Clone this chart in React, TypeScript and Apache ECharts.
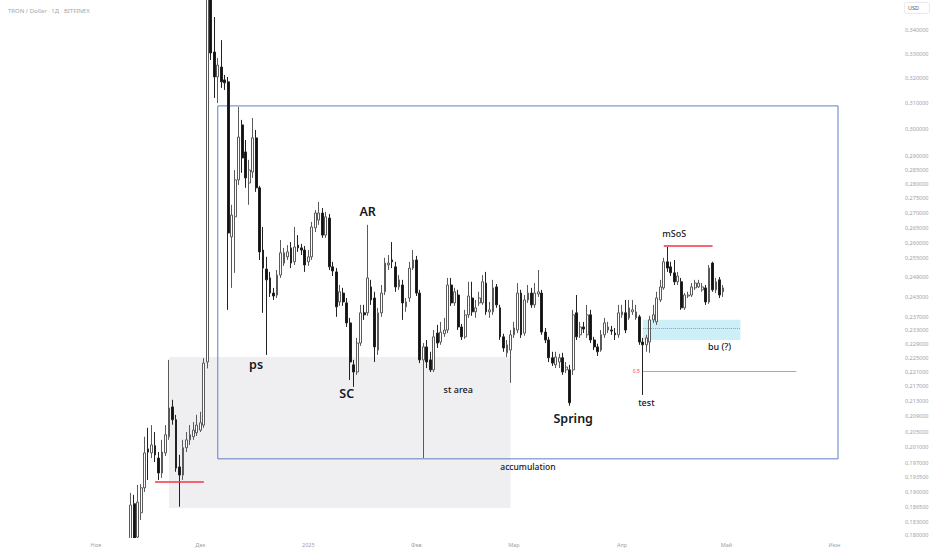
import { useEffect, useRef } from 'react';
import * as echarts from 'echarts';

const AXIS_START = '2024-10-05';
const AXIS_DAYS = 258;
const FIRST_CANDLE = '2024-11-11';

// [open, close, low, high]
const novCandles = [
  [0.1789, 0.1869, 0.1769, 0.1898], [0.1872, 0.1778, 0.1766, 0.1893], [0.1795, 0.1876, 0.1778, 0.1917],
  [0.1851, 0.1910, 0.1834, 0.1919], [0.1910, 0.1996, 0.1900, 0.2037], [0.2006, 0.1998, 0.1929, 0.2060],
  [0.1996, 0.2016, 0.1983, 0.2067], [0.2014, 0.1991, 0.1973, 0.2049], [0.1983, 0.1946, 0.1929, 0.1998],
  [0.1946, 0.1998, 0.1934, 0.2029], [0.1996, 0.2042, 0.1988, 0.2067], [0.2037, 0.2112, 0.2029, 0.2244],
  [0.2115, 0.2081, 0.2068, 0.2134], [0.2081, 0.1958, 0.1949, 0.2094], [0.1961, 0.1941, 0.1865, 0.1991],
  [0.1941, 0.2009, 0.1929, 0.2029], [0.2009, 0.2029, 0.1998, 0.2049], [0.2029, 0.2042, 0.2016, 0.2067],
  [0.2037, 0.2054, 0.2029, 0.2075], [0.2047, 0.2067, 0.2039, 0.2094],
];
const decCandles = [
  [0.2054, 0.2073, 0.2049, 0.2102], [0.2067, 0.2235, 0.2060, 0.2249], [0.2238, 0.3780, 0.2220, 0.4490],
  [0.3780, 0.3303, 0.3274, 0.3950], [0.3307, 0.3205, 0.3121, 0.3456], [0.3205, 0.3253, 0.3101, 0.3282],
  [0.3245, 0.3185, 0.3161, 0.3357], [0.3193, 0.3181, 0.3153, 0.3213], [0.3185, 0.2633, 0.2390, 0.3205],
  [0.2620, 0.2693, 0.2457, 0.2728], [0.2687, 0.2815, 0.2504, 0.2850], [0.2815, 0.2971, 0.2797, 0.3086],
  [0.3017, 0.2894, 0.2840, 0.3036], [0.2916, 0.2822, 0.2787, 0.2960], [0.2804, 0.2850, 0.2728, 0.2887],
  [0.2843, 0.2968, 0.2822, 0.3043], [0.2968, 0.2787, 0.2773, 0.2998], [0.2787, 0.2571, 0.2545, 0.2794],
  [0.2577, 0.2519, 0.2381, 0.2653], [0.2516, 0.2482, 0.2258, 0.2555], [0.2488, 0.2441, 0.2429, 0.2507],
  [0.2441, 0.2432, 0.2420, 0.2457], [0.2435, 0.2497, 0.2426, 0.2513], [0.2497, 0.2568, 0.2488, 0.2610],
  [0.2535, 0.2568, 0.2526, 0.2584], [0.2555, 0.2571, 0.2545, 0.2593], [0.2584, 0.2535, 0.2519, 0.2603],
  [0.2539, 0.2587, 0.2529, 0.2653], [0.2593, 0.2584, 0.2571, 0.2626], [0.2584, 0.2577, 0.2561, 0.2597],
  [0.2577, 0.2529, 0.2507, 0.2590],
];
const janCandles = [
  [0.2539, 0.2555, 0.2526, 0.2577], [0.2555, 0.2653, 0.2545, 0.2670], [0.2650, 0.2700, 0.2636, 0.2710],
  [0.2676, 0.2700, 0.2660, 0.2738], [0.2700, 0.2626, 0.2617, 0.2717], [0.2626, 0.2687, 0.2617, 0.2704],
  [0.2683, 0.2523, 0.2513, 0.2697], [0.2523, 0.2510, 0.2494, 0.2539], [0.2507, 0.2399, 0.2369, 0.2519],
  [0.2414, 0.2445, 0.2402, 0.2466], [0.2441, 0.2414, 0.2402, 0.2457], [0.2411, 0.2351, 0.2339, 0.2426],
  [0.2351, 0.2238, 0.2188, 0.2366], [0.2230, 0.2210, 0.2169, 0.2244], [0.2210, 0.2292, 0.2202, 0.2307],
  [0.2292, 0.2381, 0.2284, 0.2405], [0.2381, 0.2375, 0.2360, 0.2405], [0.2381, 0.2488, 0.2372, 0.2660],
  [0.2460, 0.2420, 0.2405, 0.2482], [0.2426, 0.2281, 0.2238, 0.2445], [0.2272, 0.2381, 0.2258, 0.2396],
  [0.2381, 0.2441, 0.2369, 0.2466], [0.2445, 0.2535, 0.2435, 0.2552], [0.2529, 0.2535, 0.2513, 0.2561],
  [0.2545, 0.2539, 0.2519, 0.2603], [0.2523, 0.2460, 0.2445, 0.2539], [0.2460, 0.2482, 0.2451, 0.2497],
  [0.2466, 0.2411, 0.2360, 0.2482], [0.2399, 0.2414, 0.2384, 0.2426], [0.2426, 0.2519, 0.2414, 0.2539],
  [0.2519, 0.2545, 0.2513, 0.2577],
];
const febCandles = [
  [0.2545, 0.2441, 0.2432, 0.2558], [0.2441, 0.2244, 0.2235, 0.2451], [0.2244, 0.2281, 0.1983, 0.2292],
  [0.2281, 0.2238, 0.2221, 0.2301], [0.2244, 0.2216, 0.2210, 0.2267], [0.2216, 0.2310, 0.2210, 0.2330],
  [0.2321, 0.2292, 0.2278, 0.2345], [0.2295, 0.2324, 0.2287, 0.2354], [0.2319, 0.2330, 0.2310, 0.2366],
  [0.2330, 0.2466, 0.2321, 0.2488], [0.2466, 0.2411, 0.2402, 0.2488], [0.2411, 0.2445, 0.2402, 0.2457],
  [0.2435, 0.2339, 0.2330, 0.2451], [0.2339, 0.2310, 0.2301, 0.2348], [0.2310, 0.2375, 0.2304, 0.2390],
  [0.2375, 0.2432, 0.2366, 0.2476], [0.2426, 0.2384, 0.2372, 0.2476], [0.2384, 0.2396, 0.2366, 0.2420],
  [0.2411, 0.2426, 0.2402, 0.2445], [0.2411, 0.2476, 0.2405, 0.2497], [0.2472, 0.2384, 0.2375, 0.2507],
  [0.2384, 0.2390, 0.2366, 0.2414], [0.2384, 0.2457, 0.2375, 0.2482], [0.2460, 0.2405, 0.2396, 0.2469],
  [0.2396, 0.2310, 0.2301, 0.2405], [0.2310, 0.2278, 0.2267, 0.2319], [0.2264, 0.2287, 0.2252, 0.2301],
  [0.2272, 0.2316, 0.2180, 0.2330],
];
const marCandles = [
  [0.2316, 0.2336, 0.2307, 0.2354], [0.2330, 0.2441, 0.2321, 0.2472], [0.2441, 0.2316, 0.2307, 0.2451],
  [0.2321, 0.2420, 0.2313, 0.2435], [0.2420, 0.2441, 0.2411, 0.2466], [0.2441, 0.2405, 0.2396, 0.2457],
  [0.2405, 0.2441, 0.2396, 0.2472], [0.2438, 0.2445, 0.2429, 0.2513], [0.2441, 0.2324, 0.2316, 0.2451],
  [0.2324, 0.2301, 0.2292, 0.2336], [0.2301, 0.2250, 0.2238, 0.2310], [0.2250, 0.2235, 0.2227, 0.2267],
  [0.2230, 0.2252, 0.2221, 0.2267], [0.2238, 0.2250, 0.2221, 0.2261], [0.2250, 0.2210, 0.2202, 0.2264],
  [0.2216, 0.2224, 0.2207, 0.2238], [0.2216, 0.2126, 0.2118, 0.2230], [0.2216, 0.2375, 0.2202, 0.2390],
  [0.2381, 0.2310, 0.2301, 0.2435], [0.2316, 0.2339, 0.2307, 0.2354], [0.2339, 0.2333, 0.2321, 0.2354],
  [0.2316, 0.2375, 0.2307, 0.2405], [0.2375, 0.2301, 0.2292, 0.2390], [0.2301, 0.2281, 0.2272, 0.2310],
  [0.2281, 0.2267, 0.2255, 0.2290], [0.2272, 0.2316, 0.2267, 0.2330], [0.2316, 0.2351, 0.2307, 0.2366],
  [0.2330, 0.2339, 0.2321, 0.2354], [0.2330, 0.2327, 0.2316, 0.2342], [0.2321, 0.2316, 0.2301, 0.2336],
  [0.2316, 0.2381, 0.2307, 0.2405],
];
const aprCandles = [
  [0.2375, 0.2384, 0.2366, 0.2405], [0.2381, 0.2330, 0.2321, 0.2420], [0.2366, 0.2396, 0.2360, 0.2420],
  [0.2384, 0.2390, 0.2375, 0.2420], [0.2366, 0.2384, 0.2360, 0.2405], [0.2369, 0.2295, 0.2287, 0.2375],
  [0.2295, 0.2287, 0.2147, 0.2307], [0.2287, 0.2307, 0.2267, 0.2316], [0.2295, 0.2360, 0.2264, 0.2372],
  [0.2360, 0.2375, 0.2351, 0.2405], [0.2354, 0.2426, 0.2345, 0.2445], [0.2420, 0.2460, 0.2414, 0.2482],
  [0.2457, 0.2539, 0.2451, 0.2552], [0.2539, 0.2519, 0.2507, 0.2587], [0.2523, 0.2504, 0.2494, 0.2539],
  [0.2504, 0.2476, 0.2466, 0.2545], [0.2476, 0.2494, 0.2466, 0.2507], [0.2476, 0.2396, 0.2390, 0.2488],
  [0.2396, 0.2435, 0.2390, 0.2441], [0.2432, 0.2435, 0.2426, 0.2445], [0.2435, 0.2460, 0.2429, 0.2472],
  [0.2457, 0.2472, 0.2451, 0.2482], [0.2460, 0.2472, 0.2457, 0.2482], [0.2451, 0.2460, 0.2445, 0.2472],
  [0.2457, 0.2414, 0.2405, 0.2466], [0.2414, 0.2519, 0.2408, 0.2529], [0.2535, 0.2451, 0.2445, 0.2539],
  [0.2451, 0.2476, 0.2441, 0.2488], [0.2482, 0.2435, 0.2426, 0.2491], [0.2445, 0.2457, 0.2429, 0.2466],
];

const priceTicks = [
  0.34, 0.33, 0.32, 0.31, 0.3, 0.29, 0.285, 0.28, 0.275, 0.27, 0.265, 0.26, 0.255, 0.249, 0.243, 0.237,
  0.233, 0.229, 0.225, 0.221, 0.217, 0.213, 0.209, 0.205, 0.201, 0.197, 0.1935, 0.19, 0.1865, 0.183, 0.18,
];
const priceRange = [0.1793, 0.3531];

const monthLabels: Record<string, string> = {
  '11': 'Ноя', '12': 'Дек', '01': '2025', '02': 'Фев', '03': 'Мар', '04': 'Апр', '05': 'Май', '06': 'Июн',
};

const rangeBox = { from: '2024-12-06', to: '2025-06-02', top: 0.309, bottom: 0.1981 };
const accumulationBox = { from: '2024-11-22', to: '2025-02-28', top: 0.2252, bottom: 0.1862 };
const buBox = { from: '2025-04-07', to: '2025-05-05', top: 0.236, bottom: 0.2301 };

const supportLine = { from: '2024-11-18', to: '2024-12-02', price: 0.1924 };
const msosLine = { from: '2025-04-13', to: '2025-04-27', price: 0.259 };
const halfLine = { from: '2025-04-07', to: '2025-05-21', price: 0.2213 };
const buMidLine = { from: '2025-04-07', to: '2025-05-05', price: 0.2334 };

const notes = [
  { text: 'ps', date: '2024-12-17', price: 0.223, big: true },
  { text: 'SC', date: '2025-01-12', price: 0.215, big: true },
  { text: 'AR', date: '2025-01-18', price: 0.2704, big: true },
  { text: 'st area', date: '2025-02-13', price: 0.2163, big: false },
  { text: 'accumulation', date: '2025-03-05', price: 0.1963, big: false },
  { text: 'Spring', date: '2025-03-18', price: 0.2084, big: true },
  { text: 'test', date: '2025-04-08', price: 0.2127, big: false },
  { text: 'mSoS', date: '2025-04-16', price: 0.2631, big: false },
  { text: 'bu (?)', date: '2025-04-29', price: 0.2281, big: false },
];

function buildDays(start: string, n: number): string[] {
  const t0 = new Date(start + 'T00:00:00Z').getTime();
  const out: string[] = [];
  for (let k = 0; k < n; k++) out.push(new Date(t0 + k * 86400000).toISOString().slice(0, 10));
  return out;
}

const L = Math.log;
const FONT = 'Noto Sans, Open Sans, sans-serif';

export default function App() {
  const ref = useRef<HTMLDivElement>(null);

  useEffect(() => {
    if (!ref.current) return;
    const chart = echarts.init(ref.current, undefined, { renderer: 'svg' });
    const days = buildDays(AXIS_START, AXIS_DAYS);
    const ohlc = [...novCandles, ...decCandles, ...janCandles, ...febCandles, ...marCandles, ...aprCandles];
    const offset = days.indexOf(FIRST_CANDLE);
    const data = ohlc.map((r, j) => [offset + j, L(r[0]), L(r[1]), L(r[2]), L(r[3])]);

    const area = (b: any, style: any) => [
      { xAxis: b.from, yAxis: L(b.top), itemStyle: style },
      { xAxis: b.to, yAxis: L(b.bottom) },
    ];
    const hline = (l: any, lineStyle: any, label?: any) => [
      { coord: [l.from, L(l.price)], lineStyle, label: label || { show: false } },
      { coord: [l.to, L(l.price)] },
    ];

    chart.setOption({
      animation: false,
      backgroundColor: '#ffffff',
      title: {
        text: 'TRON / Dollar · 1Д · BITFINEX',
        left: 3,
        top: 3,
        textStyle: { fontSize: 6, color: '#a3a6af', fontWeight: 'normal', fontFamily: FONT },
      },
      graphic: [
        {
          type: 'rect',
          left: 0,
          top: 538,
          z: 5,
          silent: true,
          shape: { width: 899, height: 12 },
          style: { fill: '#ffffff' },
        },
        {
          type: 'rect',
          left: 904,
          top: 2,
          z: 5,
          shape: { width: 25, height: 11, r: 2 },
          style: { fill: '#ffffff', stroke: '#e0e3eb', lineWidth: 0.8 },
        },
        {
          type: 'text',
          left: 908,
          top: 4.5,
          z: 6,
          style: { text: 'USD', fontSize: 5.5, fill: '#555', fontFamily: FONT },
        },
      ],
      grid: { left: 0, right: 33, top: 0, bottom: 12 },
      xAxis: {
        type: 'category',
        data: days,
        boundaryGap: true,
        z: 10,
        axisLine: { show: false },
        axisTick: { show: false },
        splitLine: { show: false },
        axisLabel: {
          interval: (_i: number, v: string) => v.endsWith('-01'),
          formatter: (v: string) => monthLabels[v.slice(5, 7)] || '',
          fontSize: 5.5,
          color: '#9ea1aa',
          margin: 4,
          fontFamily: FONT,
        },
      },
      yAxis: {
        type: 'value',
        position: 'right',
        min: L(priceRange[0]),
        max: L(priceRange[1]),
        z: 10,
        axisLine: { show: false },
        axisTick: { show: false },
        splitLine: { show: false },
        axisLabel: {
          customValues: priceTicks.map(L),
          formatter: (v: number) => Math.exp(v).toFixed(6).replace('.', ','),
          fontSize: 5.5,
          color: '#9ea1aa',
          margin: 6,
          fontFamily: FONT,
        },
      },
      series: [
        {
          type: 'candlestick',
          data,
          encode: { x: 0, y: [1, 2, 3, 4] },
          barWidth: 2.3,
          clip: true,
          itemStyle: {
            color: '#ffffff',
            borderColor: '#5a5a5a',
            color0: '#111111',
            borderColor0: '#222222',
            borderWidth: 1,
          },
          markArea: {
            silent: true,
            label: { show: false },
            data: [
              area(accumulationBox, { color: '#efeff2' }),
              area(buBox, { color: '#cdeff7' }),
              area(rangeBox, { color: 'rgba(0,0,0,0)', borderColor: '#5e81c2', borderWidth: 1 }),
            ],
          },
          markLine: {
            silent: true,
            symbol: ['none', 'none'],
            label: { show: false },
            data: [
              hline(supportLine, { color: '#f23645', width: 1.5, type: 'solid' }),
              hline(msosLine, { color: '#f23645', width: 1.5, type: 'solid' }),
              hline(buMidLine, { color: '#8d9be0', width: 1, type: 'dotted' }),
              hline(halfLine, { color: '#f48a93', width: 1, type: 'solid' }, {
                show: true,
                position: 'start',
                formatter: '0.5',
                fontSize: 5,
                color: '#f23645',
                distance: 3,
                fontFamily: FONT,
              }),
            ],
          },
          markPoint: {
            silent: true,
            symbol: 'rect',
            symbolSize: 1,
            itemStyle: { color: 'rgba(0,0,0,0)' },
            data: notes.map((n) => ({
              name: n.text,
              coord: [n.date, L(n.price)],
              label: {
                show: true,
                position: 'inside',
                formatter: '{b}',
                fontSize: n.big ? 12.5 : n.text === 'accumulation' ? 8.5 : 9,
                fontWeight: n.big ? 600 : 500,
                color: '#131722',
                fontFamily: FONT,
              },
            })),
          },
        },
      ],
    });

    return () => chart.dispose();
  }, []);

  return (
    <div
      ref={ref}
      style={{ position: 'absolute', left: 0, top: 0, width: 932, height: 550, background: '#fff' }}
    />
  );
}
